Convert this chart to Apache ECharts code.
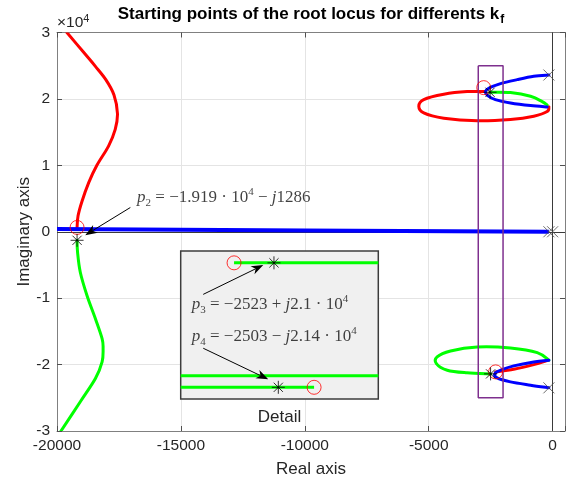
<!DOCTYPE html>
<html>
<head>
<meta charset="utf-8">
<title>Root locus starting points</title>
<script src="https://cdn.jsdelivr.net/npm/echarts@6/dist/echarts.min.js"></script>
<style>
  html, body { margin: 0; padding: 0; background: #ffffff; }
  #chart { width: 573px; height: 483px; }
</style>
</head>
<body>
<div id="chart"></div>
<script>
// ---- axis settings ----
const xMin = -20000, xMax = 500, xStep = 5000;
const yMin = -30000, yMax = 30000, yStep = 10000;
const yScale = 10000; // imaginary tick labels are shown in units of 10^4

// ---- left branches ----
const redLeftRe  = [-19600, -18900, -18450, -18030, -17700, -17560, -17650, -17920, -18390, -18720, -18990, -19150, -19190];
const redLeftIm  = [ 30000,  26900,  24900,  22900,  20600,  17800,  15400,  12900,  10000,   7400,   4600,   2400,    650];
const greenLeftRe = [-19190, -19170, -19060, -18790, -18450, -18180, -18140, -18180, -18450, -19060, -19840];
const greenLeftIm = [ -1286,  -3100,  -6100,  -9600, -13100, -16100, -17600, -19600, -22100, -25600, -30000];
const blueRealRe = [-20000, -10000, -150];
const blueRealIm = [   400,    200,    0];

// ---- upper cluster near the imaginary axis ----
const redUpRe   = [-2700, -3450, -4390, -5200, -5400, -5200, -4390, -3040, -1700,  -760,  -220,  -150];
const redUpIm   = [21100, 21100, 20700, 19900, 18900, 17900, 17100, 16700, 16900, 17400, 18100, 18800];
const greenUpRe = [-2523, -1700,  -890,  -420,  -220];
const greenUpIm = [21000, 20950, 20400, 19600, 19100];
const blueUpRe  = [ -150,  -760, -1430, -2100, -2580, -2710, -2620, -2310, -1700,  -890,  -220];
const blueUpIm  = [23600, 23400, 22900, 22300, 21600, 21100, 20500, 19900, 19400, 19000, 18800];

// ---- lower cluster near the imaginary axis ----
const greenLoRe = [ -2503,  -3450,  -4250,  -4690,  -4660,  -4120,  -3040,  -1700,   -620,   -150];
const greenLoIm = [-21400, -21240, -20850, -19850, -18850, -17950, -17350, -17500, -18200, -19350];
const redLoRe   = [ -2300,  -1570,   -760,   -220];
const redLoIm   = [-21100, -20700, -20000, -19400];
const blueLoRe  = [  -150,   -760,  -1570,  -2100,  -2330,  -2240,  -1700,   -890,   -150];
const blueLoIm  = [-19350, -19600, -20200, -20850, -21350, -22000, -22600, -23100, -23500];

// ---- markers ----
const polesRe  = [-150, -150, -150, 0];
const polesIm  = [23600, -23500, 0, 0];
const startRe  = [-19190, -2523, -2503];
const startIm  = [ -1286, 21000, -21400];
const circleRe = [-19190, -2780, -2300];
const circleIm = [   650, 21700, -21100];

// ---- zoom window outline ----
const boxRe = [-3000, -2000, -2000, -3000, -3000];
const boxIm = [25000, 25000, -25000, -25000, 25000];

// ---- p2 annotation ----
const p2TextAt = [-16770, 5100];
const p2Arrow = [-17040, 3650, -18860, -510];

// ---- detail inset (local 0..100 coordinates) ----
const detailUpperRe = [27, 100];
const detailUpperIm = [92, 92];
const detailMidRe = [0, 100];
const detailMidIm = [15.7, 15.7];
const detailLowRe = [0, 67.5];
const detailLowIm = [7.9, 7.9];
const detailStarRe = [47.2, 49.4];
const detailStarIm = [92, 7.9];
const detailCircleRe = [27, 67.5];
const detailCircleIm = [92, 7.9];
const p3TextAt = [5.6, 63.5];
const p4TextAt = [5.6, 42.1];
const p3Arrow = [11.4, 70.7, 41.8, 90.5];
const p4Arrow = [11.4, 34.3, 44.3, 13.3];

const zip = (a, b) => a.map((v, i) => [v, b[i]]);

const RED = '#ff0000', GREEN = '#00ff00', BLUE = '#0000ff';
const SANS = 'Liberation Sans, Arial, sans-serif';
const SERIF = 'Liberation Serif, Times New Roman, serif';

const STAR = 'path://M0,-10L0,10M-10,0L10,0M-7.07,-7.07L7.07,7.07M-7.07,7.07L7.07,-7.07';
const CROSS = 'path://M-10,-10L10,10M-10,10L10,-10';

const mathRich = {
  i:  { fontFamily: SERIF, fontStyle: 'italic', fontSize: 17, color: '#111', verticalAlign: 'middle', lineHeight: 22 },
  n:  { fontFamily: SERIF, fontSize: 17, color: '#111', verticalAlign: 'middle', lineHeight: 22 },
  sb: { fontFamily: SERIF, fontSize: 11, color: '#111', verticalAlign: 'bottom', lineHeight: 22 },
  sp: { fontFamily: SERIF, fontSize: 11, color: '#111', verticalAlign: 'top', lineHeight: 22 }
};

// Smooth locus branch: a Catmull-Rom spline through the points, placed with the axes' scales.
function locus(name, re, im, color, width) {
  const pts = zip(re, im);
  return {
    name, type: 'custom', xAxisIndex: 0, yAxisIndex: 0, data: pts, silent: true, z: 3, clip: true,
    encode: { x: 0, y: 1 },
    renderItem: (params, api) => {
      if (params.dataIndex !== 0) return null;
      const p = pts.map(d => api.coord(d));
      let d = 'M' + p[0][0] + ',' + p[0][1];
      for (let i = 0; i < p.length - 1; i++) {
        const p0 = p[i - 1] || p[i], p1 = p[i], p2 = p[i + 1], p3 = p[i + 2] || p[i + 1];
        const c1x = p1[0] + (p2[0] - p0[0]) / 6, c1y = p1[1] + (p2[1] - p0[1]) / 6;
        const c2x = p2[0] - (p3[0] - p1[0]) / 6, c2y = p2[1] - (p3[1] - p1[1]) / 6;
        d += ' C' + c1x + ',' + c1y + ' ' + c2x + ',' + c2y + ' ' + p2[0] + ',' + p2[1];
      }
      return { type: 'path', shape: { pathData: d },
        style: { stroke: color, lineWidth: width, fill: 'none', lineJoin: 'round', lineCap: 'round' } };
    }
  };
}

// Annotation arrow with a filled, notched head.
function arrow(xi, yi, seg, z) {
  return {
    type: 'custom', xAxisIndex: xi, yAxisIndex: yi, data: [seg], silent: true, z,
    encode: { x: [0, 2], y: [1, 3] },
    renderItem: (params, api) => {
      const a = api.coord([api.value(0), api.value(1)]);
      const b = api.coord([api.value(2), api.value(3)]);
      const dx = b[0] - a[0], dy = b[1] - a[1];
      const L = Math.hypot(dx, dy), ux = dx / L, uy = dy / L, nx = -uy, ny = ux;
      const len = 12, half = 4.5, notch = 8.5;
      const base = [b[0] - ux * len, b[1] - uy * len];
      const mid = [b[0] - ux * notch, b[1] - uy * notch];
      return { type: 'group', children: [
        { type: 'line', shape: { x1: a[0], y1: a[1], x2: mid[0], y2: mid[1] },
          style: { stroke: '#000', lineWidth: 1 } },
        { type: 'polygon', shape: { points: [b, [base[0] + nx * half, base[1] + ny * half], mid, [base[0] - nx * half, base[1] - ny * half]] },
          style: { fill: '#000' } }
      ] };
    }
  };
}

function textSeries(xi, yi, at, text, z) {
  return {
    type: 'scatter', xAxisIndex: xi, yAxisIndex: yi, data: [at], symbolSize: 0, silent: true, z,
    label: { show: true, position: 'right', distance: 0, formatter: text, rich: mathRich }
  };
}

const fmtX = v => (v % xStep === 0 ? String(v) : '');
const fmtY = v => (v % yStep === 0 ? String(v / yScale) : '');

const TICK_FONT = 15.5, LABEL_FONT = 17;

const option = {
  animation: false,
  backgroundColor: '#ffffff',
  grid: [
    { left: 57, top: 32.5, right: 8, bottom: 50.3, show: false },
    { left: 180.7, top: 251, width: 197.6, height: 148, show: true,
      backgroundColor: '#f0f0f0', borderColor: '#3c3c3c', borderWidth: 1.5, z: 10 }
  ],
  xAxis: [
    { gridIndex: 0, type: 'value', min: xMin, max: xMax, interval: xStep, position: 'bottom',
      axisLine: { show: true, onZero: false, lineStyle: { color: '#808080', width: 1 } },
      axisTick: { show: true, inside: true, length: 5, lineStyle: { color: '#505050' } },
      axisLabel: { formatter: fmtX, color: '#262626', fontSize: TICK_FONT, fontFamily: SANS, margin: 7 },
      splitLine: { show: true, lineStyle: { color: '#e4e4e4', width: 1 } },
      name: 'Real axis', nameLocation: 'middle', nameGap: 30, nameMoveOverlap: false,
      nameTextStyle: { color: '#262626', fontSize: LABEL_FONT, fontFamily: SANS } },
    { gridIndex: 0, type: 'value', min: xMin, max: xMax, interval: xStep, position: 'top',
      axisLine: { show: true, onZero: false, lineStyle: { color: '#808080', width: 1 } },
      axisTick: { show: true, inside: true, length: 5, lineStyle: { color: '#505050' } },
      axisLabel: { show: false }, splitLine: { show: false } },
    { gridIndex: 1, type: 'value', min: 0, max: 100, z: 11,
      axisLine: { show: false }, axisTick: { show: false }, axisLabel: { show: false }, splitLine: { show: false },
      name: 'Detail', nameLocation: 'middle', nameGap: 10, nameMoveOverlap: false,
      nameTextStyle: { color: '#262626', fontSize: LABEL_FONT, fontFamily: SANS } }
  ],
  yAxis: [
    { gridIndex: 0, type: 'value', min: yMin, max: yMax, interval: yStep, position: 'left',
      axisLine: { show: true, onZero: false, lineStyle: { color: '#808080', width: 1 } },
      axisTick: { show: true, inside: true, length: 5, lineStyle: { color: '#505050' } },
      axisLabel: { formatter: fmtY, color: '#262626', fontSize: TICK_FONT, fontFamily: SANS, margin: 7 },
      splitLine: { show: true, lineStyle: { color: '#e4e4e4', width: 1 } },
      name: 'Imaginary axis', nameLocation: 'middle', nameGap: 24, nameMoveOverlap: false,
      nameTextStyle: { color: '#262626', fontSize: LABEL_FONT, fontFamily: SANS } },
    { gridIndex: 0, type: 'value', min: yMin, max: yMax, interval: yStep, position: 'right',
      axisLine: { show: true, onZero: false, lineStyle: { color: '#808080', width: 1 } },
      axisTick: { show: true, inside: true, length: 5, lineStyle: { color: '#505050' } },
      axisLabel: { show: false }, splitLine: { show: false } },
    { gridIndex: 1, type: 'value', min: 0, max: 100, show: false }
  ],
  graphic: [
    { type: 'text', x: 311, y: 2, silent: true,
      style: { text: 'Starting points of the root locus for differents k{f|f}',
        textAlign: 'center', textVerticalAlign: 'top', fill: '#000', font: 'bold 17px ' + SANS,
        rich: { f: { fontSize: 12, fontWeight: 'bold', fontFamily: SANS, verticalAlign: 'bottom', lineHeight: 24, padding: [0, 0, 0, 1] } } } },
    { type: 'text', x: 57, y: 13, silent: true,
      style: { text: '×10{s|4}', fill: '#262626', font: TICK_FONT + 'px ' + SANS,
        rich: { s: { fontSize: 11, fontFamily: SANS, verticalAlign: 'top', lineHeight: 19 } } } }
  ],
  series: [
    // reference lines through the origin
    { type: 'line', xAxisIndex: 0, yAxisIndex: 0, data: [], silent: true, z: 2,
      markLine: { silent: true, animation: false, z: 2, symbol: ['none', 'none'], label: { show: false },
        lineStyle: { color: '#3a3a3a', width: 1, type: 'solid' },
        data: [{ xAxis: 0 }, { yAxis: 0 }] } },
    locus('red-left', redLeftRe, redLeftIm, RED, 3),
    locus('green-left', greenLeftRe, greenLeftIm, GREEN, 3),
    locus('red-up', redUpRe, redUpIm, RED, 3),
    locus('red-low', redLoRe, redLoIm, RED, 3),
    locus('green-up', greenUpRe, greenUpIm, GREEN, 3),
    locus('green-low', greenLoRe, greenLoIm, GREEN, 3),
    locus('blue-up', blueUpRe, blueUpIm, BLUE, 3),
    locus('blue-low', blueLoRe, blueLoIm, BLUE, 3),
    { type: 'line', xAxisIndex: 0, yAxisIndex: 0, data: zip(blueRealRe, blueRealIm), symbol: 'none',
      lineStyle: { color: BLUE, width: 4 }, silent: true, z: 3 },
    // zoom window
    { type: 'line', xAxisIndex: 0, yAxisIndex: 0, data: zip(boxRe, boxIm), symbol: 'none',
      lineStyle: { color: '#7e2f8e', width: 1.5 }, silent: true, z: 4 },
    // open-loop poles
    { type: 'scatter', xAxisIndex: 0, yAxisIndex: 0, data: zip(polesRe, polesIm), symbol: CROSS, symbolSize: 11,
      itemStyle: { color: 'transparent', borderColor: '#4a4a4a', borderWidth: 1 }, silent: true, z: 5 },
    // starting points
    { type: 'scatter', xAxisIndex: 0, yAxisIndex: 0, data: zip(circleRe, circleIm), symbol: 'circle', symbolSize: 14,
      itemStyle: { color: 'transparent', borderColor: RED, borderWidth: 1 }, silent: true, z: 5 },
    { type: 'scatter', xAxisIndex: 0, yAxisIndex: 0, data: zip(startRe, startIm), symbol: STAR, symbolSize: 13,
      itemStyle: { color: 'transparent', borderColor: '#000', borderWidth: 1 }, silent: true, z: 6 },
    // p2 annotation
    textSeries(0, 0, p2TextAt, '{i|p}{sb|2}{n| = −1.919 · 10}{sp|4}{n| − }{i|j}{n|1286}', 6),
    arrow(0, 0, p2Arrow, 6),

    // detail inset
    { type: 'line', xAxisIndex: 2, yAxisIndex: 2, data: zip(detailUpperRe, detailUpperIm), symbol: 'none',
      lineStyle: { color: GREEN, width: 3 }, silent: true, z: 12 },
    { type: 'line', xAxisIndex: 2, yAxisIndex: 2, data: zip(detailMidRe, detailMidIm), symbol: 'none',
      lineStyle: { color: GREEN, width: 3 }, silent: true, z: 12 },
    { type: 'line', xAxisIndex: 2, yAxisIndex: 2, data: zip(detailLowRe, detailLowIm), symbol: 'none',
      lineStyle: { color: GREEN, width: 3 }, silent: true, z: 12 },
    { type: 'scatter', xAxisIndex: 2, yAxisIndex: 2, data: zip(detailCircleRe, detailCircleIm), symbol: 'circle', symbolSize: 14,
      itemStyle: { color: 'transparent', borderColor: RED, borderWidth: 1 }, silent: true, z: 13 },
    { type: 'scatter', xAxisIndex: 2, yAxisIndex: 2, data: zip(detailStarRe, detailStarIm), symbol: STAR, symbolSize: 13,
      itemStyle: { color: 'transparent', borderColor: '#000', borderWidth: 1 }, silent: true, z: 13 },
    textSeries(2, 2, p3TextAt, '{i|p}{sb|3}{n| = −2523 + }{i|j}{n|2.1 · 10}{sp|4}', 13),
    textSeries(2, 2, p4TextAt, '{i|p}{sb|4}{n| = −2503 − }{i|j}{n|2.14 · 10}{sp|4}', 13),
    arrow(2, 2, p3Arrow, 14),
    arrow(2, 2, p4Arrow, 14)
  ]
};

const chart = echarts.init(document.getElementById('chart'), null, { renderer: 'canvas' });
chart.setOption(option);
</script>
</body>
</html>
